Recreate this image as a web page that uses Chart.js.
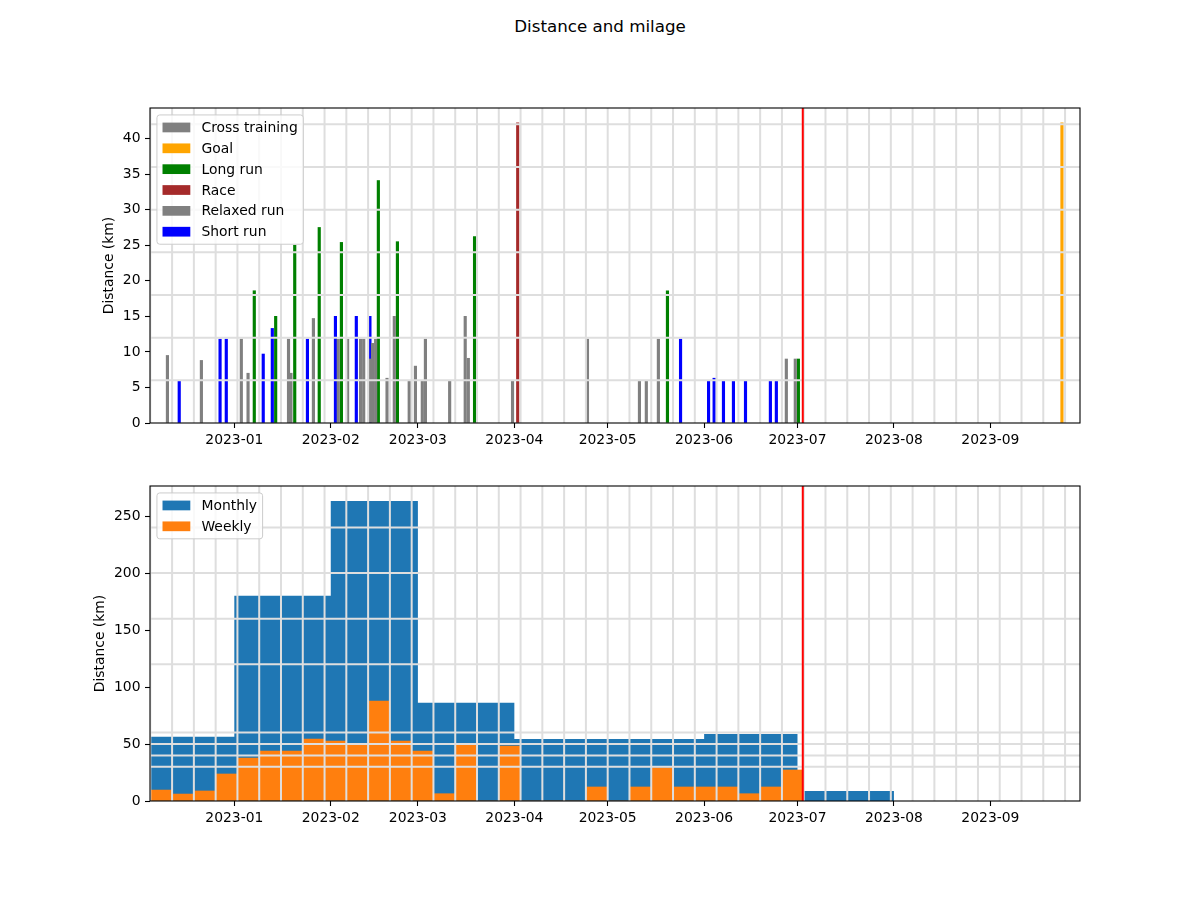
<!DOCTYPE html>
<html lang="en">
<head>
  <meta charset="UTF-8" />
  <title>Distance and milage</title>
  <script src="https://cdn.jsdelivr.net/npm/chart.js"></script>
  <style>
    html, body { margin: 0; padding: 0; background: #fff; }
    .frame { position: relative; width: 1200px; height: 900px; font-family: "DejaVu Sans", sans-serif; }
    .suptitle { position: absolute; top: 16px; left: 0; width: 1200px; text-align: center; font-size: 16.7px; color: #000; }
    canvas { position: absolute; left: 0; }
    #distanceChart { top: 0; }
    #milageChart { top: 450px; }
  </style>
</head>
<body>
  <div class="frame">
    <div class="suptitle">Distance and milage</div>
    <canvas id="distanceChart" width="1200" height="450"></canvas>
    <canvas id="milageChart" width="1200" height="450"></canvas>
  </div>

  <script>
    // activity categories (legend order) and their bar colours
    const categories = ['Cross training', 'Goal', 'Long run', 'Race', 'Relaxed run', 'Short run'];
    const categoryColors = ['grey', 'orange', 'green', 'brown', 'grey', 'blue'];

    // single activities
    const activityDates = [
      '2022-12-10T12:00', '2022-12-14T07:00', '2022-12-21T10:00', '2022-12-27T10:00', '2022-12-29T10:00',
      '2023-01-03T06:00', '2023-01-05T10:00', '2023-01-07T10:00', '2023-01-10T07:00', '2023-01-13T05:00',
      '2023-01-14T07:00', '2023-01-18T10:00', '2023-01-19T05:00', '2023-01-20T10:00', '2023-01-24T12:00',
      '2023-01-26T10:00', '2023-01-28T07:00', '2023-02-02T12:00', '2023-02-03T10:00', '2023-02-04T10:00',
      '2023-02-06T10:00', '2023-02-09T05:00', '2023-02-10T14:00', '2023-02-11T14:00', '2023-02-13T14:00',
      '2023-02-13T14:00', '2023-02-14T10:00', '2023-02-15T10:00', '2023-02-16T07:00', '2023-02-19T02:00',
      '2023-02-21T10:00', '2023-02-22T10:00', '2023-02-26T05:00', '2023-02-28T05:00', '2023-03-02T10:00',
      '2023-03-03T10:00', '2023-03-11T05:00', '2023-03-16T05:00', '2023-03-17T05:00', '2023-03-19T05:00',
      '2023-03-31T10:00', '2023-04-02T02:00', '2023-04-24T12:00', '2023-05-11T05:00', '2023-05-13T10:00',
      '2023-05-17T07:00', '2023-05-20T05:00', '2023-05-24T10:00', '2023-06-02T10:00', '2023-06-04T05:00',
      '2023-06-07T05:00', '2023-06-10T10:00', '2023-06-14T07:00', '2023-06-22T07:00', '2023-06-24T05:00',
      '2023-06-27T10:00', '2023-06-30T07:00', '2023-07-01T07:00', '2023-09-24T00:00'
    ];
    const activityKm = [
      9.5, 5.9, 8.8, 11.8, 11.8,
      11.8, 7.0, 18.6, 9.7, 13.3,
      15.0, 11.8, 7.0, 25.0, 11.8,
      14.7, 27.5, 15.0, 11.8, 25.4,
      11.8, 15.0, 11.8, 11.8, 15.0,
      9.0, 11.2, 11.8, 34.1, 6.3,
      15.0, 25.5, 5.9, 8.0, 5.9,
      11.8, 5.9, 15.0, 9.1, 26.2,
      5.9, 42.2, 11.8, 5.9, 5.9,
      11.8, 18.6, 11.8, 5.9, 6.3,
      5.9, 5.9, 5.9, 5.9, 5.9,
      9.0, 9.0, 9.0, 42.2
    ];
    const activityType = [
      'Relaxed run', 'Short run', 'Relaxed run', 'Short run', 'Short run',
      'Relaxed run', 'Cross training', 'Long run', 'Short run', 'Short run',
      'Long run', 'Relaxed run', 'Cross training', 'Long run', 'Short run',
      'Relaxed run', 'Long run', 'Short run', 'Relaxed run', 'Long run',
      'Relaxed run', 'Short run', 'Relaxed run', 'Relaxed run', 'Short run',
      'Relaxed run', 'Relaxed run', 'Relaxed run', 'Long run', 'Cross training',
      'Relaxed run', 'Long run', 'Relaxed run', 'Cross training', 'Relaxed run',
      'Relaxed run', 'Relaxed run', 'Relaxed run', 'Relaxed run', 'Long run',
      'Relaxed run', 'Race', 'Relaxed run', 'Relaxed run', 'Relaxed run',
      'Relaxed run', 'Long run', 'Short run', 'Short run', 'Short run',
      'Short run', 'Short run', 'Short run', 'Short run', 'Short run',
      'Relaxed run', 'Relaxed run', 'Long run', 'Goal'
    ];

    // milage totals, lower panel
    const monthStarts = ['2022-12-01', '2023-01-01', '2023-02-01', '2023-03-01', '2023-04-01', '2023-05-01', '2023-06-01', '2023-07-01'];
    const monthlyKm = [56.4, 180, 263.2, 86.3, 54.4, 54.4, 58.8, 8.8];

    const weekStarts = [
      '2022-12-05', '2022-12-12', '2022-12-19', '2022-12-26', '2023-01-02', '2023-01-09', '2023-01-16', '2023-01-23',
      '2023-01-30', '2023-02-06', '2023-02-13', '2023-02-20', '2023-02-27', '2023-03-06', '2023-03-13', '2023-03-20',
      '2023-03-27', '2023-04-03', '2023-04-10', '2023-04-17', '2023-04-24', '2023-05-01', '2023-05-08', '2023-05-15',
      '2023-05-22', '2023-05-29', '2023-06-05', '2023-06-12', '2023-06-19', '2023-06-26'
    ];
    const weeklyKm = [
      9.6, 6.1, 8.8, 23.7, 37.7, 43.9, 43.9, 54.4,
      52.6, 49.5, 87.7, 52.6, 43.9, 6.4, 49.4, 0,
      48.2, 0, 0, 0, 12.3, 0, 12.3, 29.2,
      12.3, 12.3, 12.3, 6.4, 12.3, 27.2
    ];

    const today = '2023-07-02T16:48';

    // axes
    const xRange = ['2022-12-04T21:36', '2023-09-29T19:12'];
    const xTickLabels = ['2023-01', '2023-02', '2023-03', '2023-04', '2023-05', '2023-06', '2023-07', '2023-08', '2023-09'];
    const firstGridMonday = '2022-12-05';
    const topYMax = 44.3;
    const topYTicks = [0, 5, 10, 15, 20, 25, 30, 35, 40];
    const topGridKm = [6, 12, 18, 24, 30, 36, 42];
    const bottomYMax = 276.4;
    const bottomYTicks = [0, 50, 100, 150, 200, 250];
    const bottomGridKm = [30, 40, 50, 60, 120, 160, 200, 240];

    const FS = 13.9;
    Chart.defaults.font.family = '"DejaVu Sans", sans-serif';
    Chart.defaults.font.size = FS;
    Chart.defaults.color = '#000';

    const EPOCH = Date.UTC(2023, 0, 1);
    function day(s) {
      return (Date.parse(s.length > 10 ? s + 'Z' : s) - EPOCH) / 864e5;
    }

    const xMin = day(xRange[0]), xMax = day(xRange[1]);
    const mondays = [];
    for (let d = day(firstGridMonday); d < xMax; d += 7) mondays.push(d);

    // grid drawn above the bars, but under the red "today" line
    const overGrid = {
      id: 'overGrid',
      beforeDatasetDraw(chart, args, opts) {
        if (!chart.data.datasets[args.index].marker) return;
        const { ctx, chartArea: a, scales: { x, y } } = chart;
        ctx.save();
        ctx.beginPath();
        ctx.rect(a.left, a.top, a.width, a.height);
        ctx.clip();
        ctx.strokeStyle = '#dedede';
        ctx.lineWidth = 2;
        ctx.beginPath();
        opts.xValues.forEach(v => {
          const px = x.getPixelForValue(v);
          ctx.moveTo(px, a.top); ctx.lineTo(px, a.bottom);
        });
        opts.yValues.forEach(v => {
          const py = y.getPixelForValue(v);
          ctx.moveTo(a.left, py); ctx.lineTo(a.right, py);
        });
        ctx.stroke();
        ctx.restore();
      }
    };

    // the four spines
    const frame = {
      id: 'frame',
      afterDatasetsDraw(chart) {
        const { ctx, chartArea: a } = chart;
        ctx.save();
        ctx.strokeStyle = '#000';
        ctx.lineWidth = 1.1;
        ctx.strokeRect(a.left, a.top, a.width, a.height);
        ctx.restore();
      }
    };

    // matplotlib-like legend in the upper left corner
    const boxLegend = {
      id: 'boxLegend',
      afterDraw(chart, args, opts) {
        const { ctx, chartArea: a } = chart;
        const items = opts.items;
        ctx.save();
        ctx.font = FS + 'px "DejaVu Sans"';
        const textW = Math.max(...items.map(it => ctx.measureText(it.label).width));
        const pad = 0.4 * FS, handle = 2 * FS, gap = 0.8 * FS, rowGap = 0.5 * FS;
        const w = pad * 2 + handle + gap + textW;
        const h = pad * 2 + items.length * FS + (items.length - 1) * rowGap;
        const x0 = a.left + 0.5 * FS, y0 = a.top + 0.5 * FS;
        ctx.beginPath();
        ctx.roundRect(x0, y0, w, h, 0.2 * FS);
        ctx.fillStyle = 'rgba(255,255,255,0.8)';
        ctx.fill();
        ctx.strokeStyle = '#cccccc';
        ctx.lineWidth = 1;
        ctx.stroke();
        ctx.textBaseline = 'middle';
        items.forEach((it, i) => {
          const cy = y0 + pad + FS / 2 + i * (FS + rowGap);
          ctx.fillStyle = it.color;
          ctx.fillRect(x0 + pad, cy - 0.35 * FS, handle, 0.7 * FS);
          ctx.fillStyle = '#000';
          ctx.fillText(it.label, x0 + pad + handle + gap, cy + 1);
        });
        ctx.restore();
      }
    };

    function xScale() {
      return {
        type: 'linear', min: xMin, max: xMax, offset: false,
        afterBuildTicks: s => { s.ticks = xTickLabels.map(l => ({ value: day(l + '-01') })); },
        afterFit: s => { s.height = 27; },
        ticks: { autoSkip: false, maxRotation: 0, padding: 4, callback: (v, i) => xTickLabels[i] },
        grid: { drawOnChartArea: false, drawTicks: true, tickLength: 5, tickWidth: 1.1, tickColor: '#000', color: '#000', offset: false },
        border: { display: false }
      };
    }

    function yScale(max, tickValues, width) {
      return {
        type: 'linear', min: 0, max: max,
        afterBuildTicks: s => { s.ticks = tickValues.map(v => ({ value: v })); },
        afterFit: s => { s.width = width; },
        ticks: { padding: 4.5 },
        grid: { drawOnChartArea: false, drawTicks: true, tickLength: 5, tickWidth: 1.1, tickColor: '#000', color: '#000' },
        border: { display: false },
        title: { display: true, text: 'Distance (km)', padding: 0 }
      };
    }

    function todayLine(ymax) {
      return {
        type: 'line', marker: true, order: 0,
        data: [{ x: day(today), y: 0 }, { x: day(today), y: ymax }],
        borderColor: 'red', borderWidth: 2, pointRadius: 0, fill: false
      };
    }

    // upper panel: one bar per activity
    const distanceSets = categories.map((name, c) => ({
      type: 'bar',
      label: name,
      data: activityDates
        .map((d, i) => ({ x: day(d), y: activityKm[i], t: activityType[i] }))
        .filter(p => p.t === name),
      backgroundColor: categoryColors[c],
      barThickness: 2.5,
      grouped: false,
      order: categoryColors[c] === 'grey' ? 1 : 2
    }));

    new Chart(document.getElementById('distanceChart'), {
      type: 'bar',
      data: { datasets: [todayLine(topYMax), ...distanceSets] },
      options: {
        responsive: false,
        animation: false,
        events: [],
        layout: { padding: { left: 101, right: 120, top: 108, bottom: 0 } },
        scales: { x: xScale(), y: yScale(topYMax, topYTicks, 49) },
        plugins: {
          legend: { display: false },
          tooltip: { enabled: false },
          overGrid: { xValues: mondays, yValues: topGridKm },
          boxLegend: { items: categories.map((c, i) => ({ label: c, color: categoryColors[i] })) }
        }
      },
      plugins: [overGrid, frame, boxLegend]
    });

    // lower panel: monthly totals as a step area, weekly totals as bars
    const monthlyPoints = monthStarts.map((m, i) => ({ x: day(m), y: monthlyKm[i] }));
    const lastMonth = new Date(monthStarts[monthStarts.length - 1]);
    lastMonth.setUTCMonth(lastMonth.getUTCMonth() + 1);
    monthlyPoints.push({ x: day(lastMonth.toISOString().slice(0, 10)), y: 0 });

    new Chart(document.getElementById('milageChart'), {
      type: 'bar',
      data: {
        datasets: [
          todayLine(bottomYMax),
          {
            type: 'bar', label: 'Weekly', order: 2,
            data: weekStarts.map((w, i) => ({ x: day(w) + 3.5, y: weeklyKm[i] })),
            backgroundColor: '#ff7f0e', barPercentage: 1, categoryPercentage: 1, grouped: false
          },
          {
            type: 'line', label: 'Monthly', order: 3,
            data: monthlyPoints, stepped: 'before', fill: 'origin',
            backgroundColor: '#1f77b4', borderColor: 'rgba(0,0,0,0)', borderWidth: 0, pointRadius: 0
          }
        ]
      },
      options: {
        responsive: false,
        animation: false,
        events: [],
        layout: { padding: { left: 92.4, right: 120, top: 36, bottom: 72 } },
        scales: { x: xScale(), y: yScale(bottomYMax, bottomYTicks, 57.6) },
        plugins: {
          legend: { display: false },
          tooltip: { enabled: false },
          overGrid: { xValues: mondays, yValues: bottomGridKm },
          boxLegend: { items: [{ label: 'Monthly', color: '#1f77b4' }, { label: 'Weekly', color: '#ff7f0e' }] }
        }
      },
      plugins: [overGrid, frame, boxLegend]
    });
  </script>
</body>
</html>
